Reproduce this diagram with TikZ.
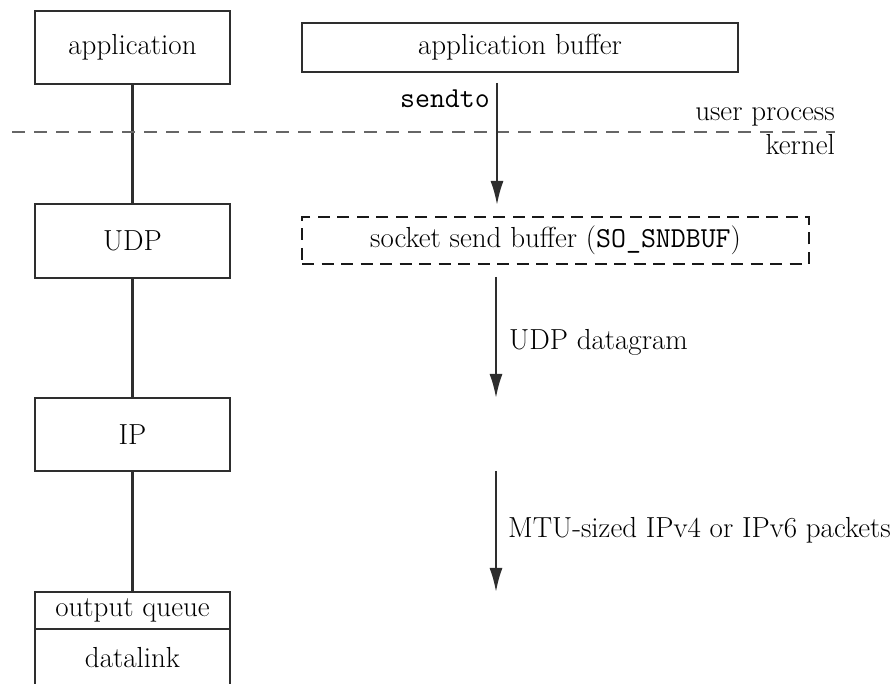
\documentclass[tikz,border=0pt]{standalone}
\usepackage{fontspec}
\usetikzlibrary{arrows.meta}
\definecolor{ink}{HTML}{2E2E2E}
\tikzset{
  layer/.style={draw=ink, line width=2.8pt, minimum width=195pt, inner sep=0pt, text=black},
  buf/.style={draw=ink, line width=2.8pt, inner sep=0pt, text=black},
  dbuf/.style={draw=black!90, line width=2.8pt, dash pattern=on 12pt off 7.5pt, inner sep=0pt, text=black},
  conn/.style={draw=ink, line width=2.6pt},
  flow/.style={draw=ink, line width=2.2pt, -{Latex[length=24pt,width=13pt]}},
  lbl/.style={inner sep=0pt, text=black},
  mono/.style={font=\fontsize{29}{34}\ttfamily},
  sep/.style={draw=black!60, line width=1.8pt, dash pattern=on 13pt off 9pt}
}
\begin{document}
\begin{tikzpicture}[x=1pt,y=-1pt, font=\fontsize{29}{34}\selectfont]
\useasboundingbox (0,0) rectangle (895,684);
\clip (0,0) rectangle (895,684);
% left stack
\node[layer, minimum height=73pt] (app) at (132.5,47.5) {application};
\node[layer, minimum height=74pt] (udp) at (132.5,241) {UDP};
\node[layer, minimum height=73pt] (ip) at (132.5,434.5) {IP};
\node[layer, minimum height=37pt] (oq) at (132.5,610.5) {output queue};
\node[layer, minimum height=58pt] (dl) at (132.5,658) {datalink};
\draw[conn] (app.south) -- (udp.north);
\draw[conn] (udp.south) -- (ip.north);
\draw[conn] (ip.south) -- (oq.north);
% user/kernel separator
\coordinate (sepL) at (12,132);
\coordinate (sepR) at (835,132);
\draw[sep] (sepL) -- (sepR);
\node[lbl, anchor=base east] (user) at (835,121) {user process};
\node[lbl, anchor=base east] (kern) at (835,155) {kernel};
% buffers
\node[buf, minimum width=436pt, minimum height=49pt] (abuf) at (520,47.5) {application buffer};
\node[dbuf, minimum width=507pt, minimum height=47pt] (sbuf) at (555.5,240.5) {socket send buffer ({\fontsize{29}{34}\ttfamily SO\_SNDBUF})};
% flows
\coordinate (f1s) at (497,83);
\coordinate (f1e) at (497,205);
\draw[flow] (f1s) -- (f1e);
\node[lbl, mono, anchor=base east] (sendto) at (490,108) {sendto};
\coordinate (f2s) at (496,277);
\coordinate (f2e) at (496,398);
\draw[flow] (f2s) -- (f2e);
\node[lbl, anchor=base west] (udpd) at (509,350) {UDP datagram};
\coordinate (f3s) at (496,471);
\coordinate (f3e) at (496,592);
\draw[flow] (f3s) -- (f3e);
\node[lbl, anchor=base west] (mtu) at (508,537) {MTU-sized IPv4 or IPv6 packets};
\end{tikzpicture}
\end{document}
